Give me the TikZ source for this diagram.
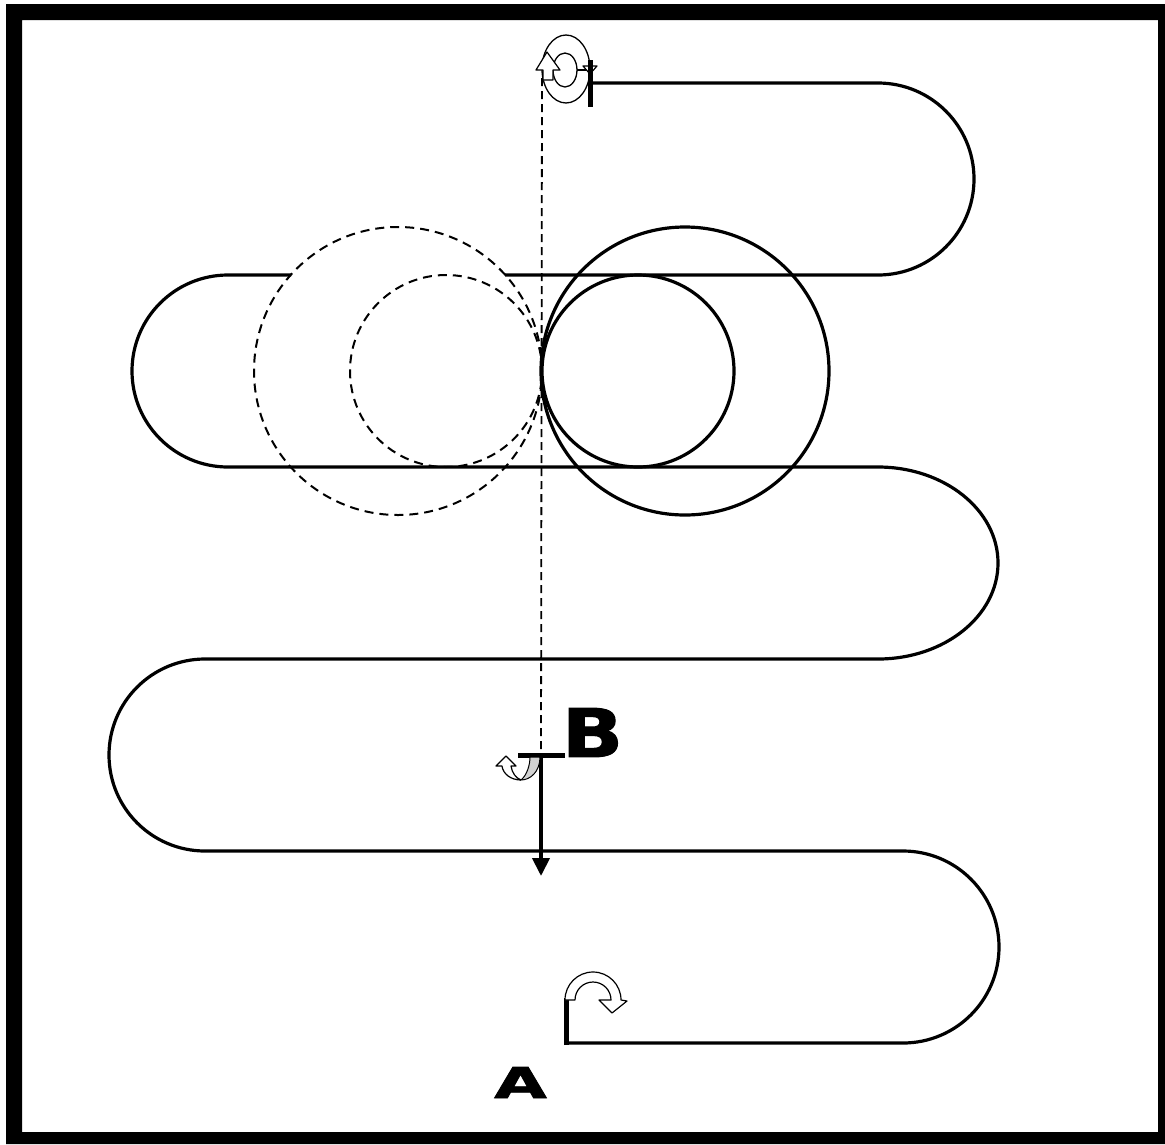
\documentclass[tikz,border=0pt]{standalone}
\usepackage{fontspec}
\newfontfamily\heavyfont[BoldFeatures={FakeBold=1.5}]{DejaVu Sans}
\usetikzlibrary{arrows.meta}
\tikzset{
  lane/.style={line width=3.2pt, line cap=butt},
  ghost/.style={line width=2pt, dash pattern=on 9pt off 6pt},
  guide/.style={line width=1.8pt, dash pattern=on 8pt off 5pt},
  thickbar/.style={line width=5pt},
  hollow/.style={fill=white, draw=black, line width=1.2pt, line join=round},
  letter/.style={inner sep=0pt, font=\heavyfont\bfseries}
}
\begin{document}
\begin{tikzpicture}[x=1pt,y=1pt]
\useasboundingbox (0,0) rectangle (1165,-1144);
% frame
\fill[even odd rule] (6,-4) rectangle (1165,-1144) (22,-20) rectangle (1158,-1132);

% serpentine route
\draw[lane] (590,-83) -- (878,-83) arc[start angle=90,end angle=-90,radius=96] -- (505,-275);
\draw[lane] (291,-275) -- (228,-275) arc[start angle=90,end angle=270,radius=96]
  -- (878,-467) arc[start angle=90,end angle=-90,x radius=120,y radius=96]
  -- (205,-659) arc[start angle=90,end angle=270,radius=96]
  -- (903,-851) arc[start angle=90,end angle=-90,radius=96]
  -- (566,-1043);

% circles
\draw[lane] (685,-371) circle[radius=144];
\draw[lane] (638,-371) circle[radius=96];
\draw[ghost] (398,-371) circle[radius=144];
\draw[ghost] (446,-371) circle[radius=96];

% top turn symbol
\coordinate (top) at (566,-69);
\draw[line width=1.3pt] (top) ellipse[x radius=24,y radius=34];
\draw[line width=1.3pt] (565,-70) ellipse[x radius=12,y radius=17];
\draw[hollow] (547,-52) -- (560,-70) -- (553,-70) -- (553,-80) -- (543,-80) -- (543,-70) -- (536,-70) -- cycle;
\draw[line width=1.2pt] (577,-70) -- (590,-70);
\draw[hollow] (583,-66) -- (597,-66) -- (590,-74) -- cycle;
\coordinate (start) at (590,-83);
\draw[thickbar] (590,-60) -- (590,-107);

% guide line
\coordinate (gtop) at (542,-78);
\coordinate (gbot) at (541,-755);
\draw[guide] (gtop) -- (gbot);

% B marker
\node[letter, font=\heavyfont\bfseries\fontsize{67}{67}\selectfont, xscale=1.2] (B) at (592.5,-732.5) {B};
\coordinate (bl) at (518,-755);
\coordinate (br) at (565,-755);
\draw[thickbar] (bl) -- (br);
\coordinate (aend) at (541,-876);
\draw[line width=4pt, -{Triangle[length=18pt,width=17pt]}] (gbot) -- (aend);
\filldraw[fill=gray!35, line width=1pt] (540,-757) .. controls (540,-772) and (530,-780) .. (521,-780)
  .. controls (527,-775) and (530,-765) .. (530,-757) -- cycle;
\draw[hollow] (521,-780) .. controls (511,-780) and (503,-774) .. (502,-766) -- (496,-766) -- (506,-756)
  -- (516,-766) -- (511,-766) .. controls (512,-773) and (516,-778) .. (521,-780);

% A marker
\draw[thickbar] (566,-1045) -- (566,-998);
\draw[hollow] (565,-1000) arc[start angle=180,end angle=0,radius=28] -- (627,-1001) -- (612,-1013)
  -- (599,-1000) -- (611,-1000) arc[start angle=0,end angle=180,radius=18] -- cycle;
\node[letter, font=\heavyfont\bfseries\fontsize{42.5}{42.5}\selectfont, xscale=1.6] (A) at (520.5,-1082.5) {A};
\end{tikzpicture}
\end{document}
